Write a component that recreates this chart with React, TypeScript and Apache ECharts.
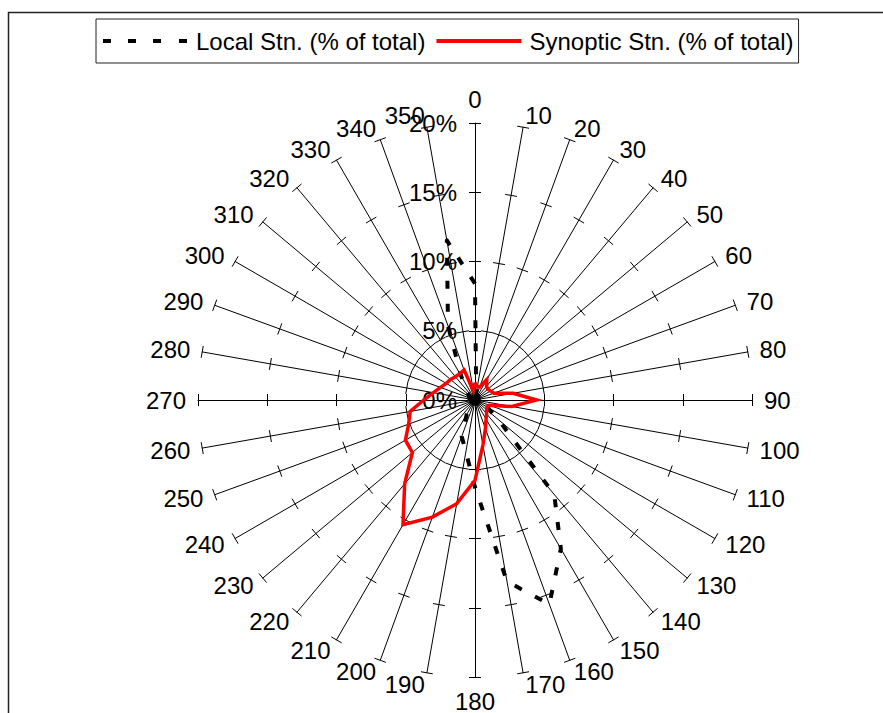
import React, { useEffect, useRef } from 'react';
import * as echarts from 'echarts';

// Wind direction categories (degrees), clockwise from north
const directions = [
  0, 10, 20, 30, 40, 50, 60, 70, 80, 90, 100, 110, 120, 130, 140, 150, 160, 170,
  180, 190, 200, 210, 220, 230, 240, 250, 260, 270, 280, 290, 300, 310, 320, 330, 340, 350,
];

// Local Stn. (% of total), in the order of `directions`
const localStn = [
  8.4, 0.5, 0.4, 0.4, 0.3, 0.3, 0.3, 0.3, 0.4, 0.5, 0.5, 0.6, 1.0, 2.2, 8.9, 12.4, 15.7, 13.3,
  6.3, 3.8, 2.8, 1.2, 0.6, 0.4, 0.3, 0.3, 0.3, 0.3, 0.4, 0.4, 0.5, 0.6, 1.0, 2.0, 5.7, 11.7,
];

// Synoptic Stn. (% of total), in the order of `directions`
const synopticStn = [
  1.25, 1.0, 1.0, 1.7, 1.3, 1.2, 1.3, 1.45, 2.8, 4.45, 2.7, 1.1, 1.0, 1.1, 1.3, 1.6, 2.2, 3.3,
  5.8, 7.6, 9.0, 10.4, 7.9, 5.9, 5.8, 5.1, 4.75, 3.7, 3.05, 2.65, 2.4, 2.3, 2.2, 2.2, 2.3, 0.7,
];

const radialMin = 0;
const radialMax = 20;
const radialSplits = 4; // 0%, 5%, 10%, 15%, 20%

const seriesNames = ['Local Stn. (% of total)', 'Synoptic Stn. (% of total)'];

const FONT = '"Liberation Sans", Arial, Helvetica, sans-serif';

export default function App() {
  const ref = useRef<HTMLDivElement>(null);

  useEffect(() => {
    if (!ref.current) return;
    const chart = echarts.init(ref.current, null, { renderer: 'svg' });

    // ECharts places radar indicators counter-clockwise; reorder to get a clockwise compass.
    const n = directions.length;
    const order = directions.map((_, i) => (n - i) % n);

    const indicatorsMain = order.map((idx, k) => {
      const ind: any = { name: String(directions[idx]), min: radialMin, max: radialMax };
      if (k === 0) ind.axisLabel = { show: true };
      return ind;
    });
    const indicatorsTicks = order.map((idx) => ({
      name: String(directions[idx]),
      min: radialMin,
      max: radialMax,
    }));

    const localData = order.map((idx) => localStn[idx]);
    const synData = order.map((idx) => synopticStn[idx]);

    const common = {
      center: [475, 400],
      radius: 277,
      startAngle: 90,
      splitNumber: radialSplits,
      shape: 'polygon',
      splitLine: { show: false },
      splitArea: { show: false },
    };

    const option: any = {
      animation: false,
      textStyle: { fontFamily: FONT, color: '#000' },
      graphic: [
        {
          type: 'rect',
          shape: { x: 8.5, y: 12.5, width: 1200, height: 1200 },
          style: { fill: 'none', stroke: '#222', lineWidth: 1.5 },
          silent: true,
          z: 0,
        },
      ],
      legend: {
        left: 96,
        top: 19,
        padding: [10, 5, 10, 7],
        itemGap: 11,
        itemWidth: 88,
        itemHeight: 4,
        borderColor: '#222',
        borderWidth: 1,
        textStyle: { fontSize: 24, fontFamily: FONT, color: '#000' },
        data: [
          {
            name: seriesNames[0],
            icon: 'path://M0,0h8v4h-8zM25,0h8v4h-8zM50,0h8v4h-8zM76,0h8v4h-8zM88,4',
            itemStyle: { color: '#000' },
          },
          {
            name: seriesNames[1],
            icon: 'path://M0,0h85v4h-85zM88,4',
            itemStyle: { color: '#ff0000' },
          },
        ],
      },
      radar: [
        {
          ...common,
          indicator: indicatorsMain,
          axisName: { show: true, color: '#000', fontSize: 24, fontFamily: FONT },
          nameGap: 12,
          axisLine: { show: true, lineStyle: { color: '#000', width: 1 } },
          axisTick: { show: true, length: 6, lineStyle: { color: '#000', width: 1 } },
          axisLabel: {
            show: false,
            color: '#000',
            fontSize: 24,
            fontFamily: FONT,
            margin: 18,
            formatter: (v: number) => `${v}%`,
          },
        },
        {
          ...common,
          indicator: indicatorsTicks,
          axisName: { show: false },
          axisLine: { show: false },
          axisTick: { show: true, length: -6, lineStyle: { color: '#000', width: 1 } },
          axisLabel: { show: false },
        },
      ],
      series: [
        {
          type: 'radar',
          radarIndex: 0,
          name: seriesNames[0],
          symbol: 'none',
          silent: true,
          z: 3,
          itemStyle: { color: '#000' },
          lineStyle: { color: '#000', width: 4, type: [8, 15], cap: 'butt' },
          data: [{ name: seriesNames[0], value: localData }],
        },
        {
          type: 'radar',
          radarIndex: 0,
          name: seriesNames[1],
          symbol: 'none',
          silent: true,
          z: 4,
          itemStyle: { color: '#ff0000' },
          lineStyle: { color: '#ff0000', width: 3.5, join: 'miter' },
          data: [{ name: seriesNames[1], value: synData }],
        },
      ],
    };

    chart.setOption(option);
    return () => chart.dispose();
  }, []);

  return (
    <div
      ref={ref}
      style={{ position: 'fixed', left: 0, top: 0, width: 883, height: 713, background: '#fff' }}
    />
  );
}
